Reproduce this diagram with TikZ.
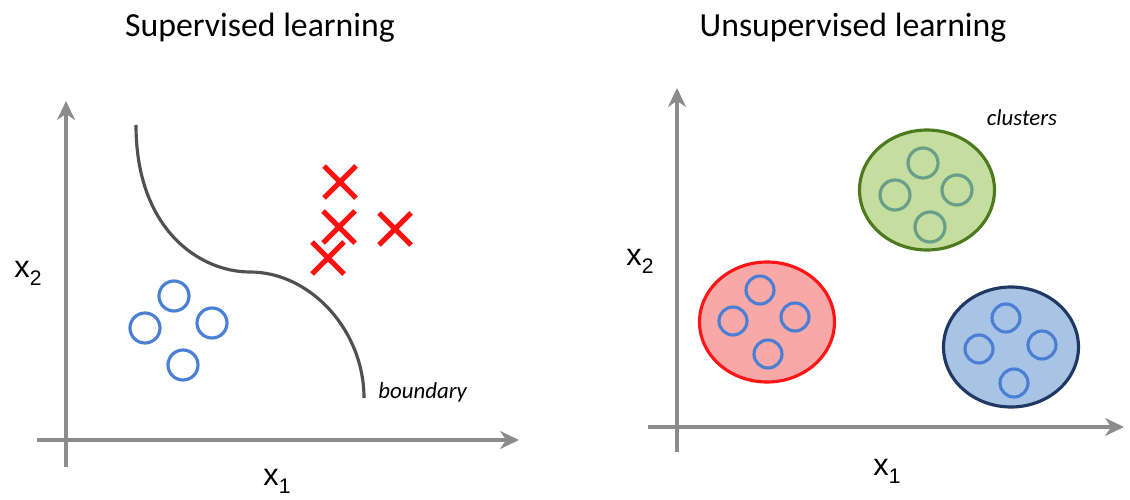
\documentclass[tikz,border=0pt]{standalone}
\usepackage{fontspec}
\setmainfont{Carlito}
\newfontfamily\axisfont{Liberation Sans}
\usepackage{xcolor}
\usetikzlibrary{arrows.meta,positioning,shapes.geometric}
\definecolor{axisgray}{HTML}{8C8C8C}
\definecolor{curvegray}{HTML}{505050}
\definecolor{ptblue}{HTML}{4A7FD4}
\definecolor{ptteal}{HTML}{6A9E88}
\definecolor{xred}{HTML}{FF1010}
\definecolor{grfill}{HTML}{C5DEA0}
\definecolor{grline}{HTML}{4E7A1E}
\definecolor{rdfill}{HTML}{F9A8A8}
\definecolor{rdline}{HTML}{FF1515}
\definecolor{blfill}{HTML}{A9C3E4}
\definecolor{blline}{HTML}{1F3864}
\tikzset{
  axis/.style={draw=axisgray, line width=2pt, -{Stealth[length=0.38cm, width=0.36cm]}},
  title/.style={font=\fontsize{19.2}{22}\selectfont},
  xlab/.style={font=\axisfont\fontsize{17.5}{20}\selectfont, inner sep=0pt},
  note/.style={font=\itshape\fontsize{13}{15}\selectfont, inner sep=0pt},
  pt/.style={circle, draw=ptblue, line width=1.8pt, minimum size=0.6cm, inner sep=0pt},
  xmark/.style={draw=xred, line width=3pt},
  cluster/.style={ellipse, line width=1.8pt, minimum width=2.7cm, minimum height=2.4cm, inner sep=0pt}
}
\newcommand{\sublab}[1]{x\raisebox{-0.16cm}{\fontsize{12}{14}\selectfont #1}}
\begin{document}
\begin{tikzpicture}[x=0.02cm, y=-0.02cm]
\useasboundingbox (0,0) rectangle (1130,500);
% supervised
\node[title] (t1) at (260,28) {Supervised learning};
\coordinate (ya) at (66,467); \coordinate (yb) at (66,101);
\coordinate (xa) at (37,440); \coordinate (xb) at (519,440);
\draw[axis] (ya) -- (yb);
\draw[axis] (xa) -- (xb);
\node[xlab] (lx1) at (277,481) {\sublab{1}};
\node[xlab] (lx2) at (28,273) {\sublab{2}};
\coordinate (b0) at (136,125); \coordinate (b1) at (250,272); \coordinate (b2) at (364,398);
\draw[curvegray, line width=1.8pt] (b0) .. controls (136,230) and (200,272) .. (b1)
  .. controls (310,272) and (364,330) .. (b2);
\node[note, anchor=west] (bl) at (378,392) {boundary};
\node[pt] (c1) at (174,296) {};
\node[pt] (c2) at (145,328) {};
\node[pt] (c3) at (212,323) {};
\node[pt] (c4) at (183,365) {};
\foreach \px/\py in {340/182, 339/227, 395/229, 328/258}
  \draw[xmark] (\px-16,\py-16) -- (\px+16,\py+16) (\px-16,\py+16) -- (\px+16,\py-16);
% unsupervised
\node[title] (t2) at (853,28) {Unsupervised learning};
\coordinate (ua) at (677,452); \coordinate (ub) at (677,88);
\coordinate (va) at (648,427); \coordinate (vb) at (1124,427);
\draw[axis] (ua) -- (ub);
\draw[axis] (va) -- (vb);
\node[xlab] (ux1) at (887,471) {\sublab{1}};
\node[xlab] (ux2) at (640,261) {\sublab{2}};
\node[note] (cl) at (1022,118) {clusters};
\node[cluster, draw=grline, fill=grfill] (green) at (927,190) {};
\node[cluster, draw=rdline, fill=rdfill] (red) at (767,322) {};
\node[cluster, draw=blline, fill=blfill] (blue) at (1011,347) {};
\node[pt, draw=ptteal] (g1) at (923,163) {};
\node[pt, draw=ptteal] (g2) at (895,195) {};
\node[pt, draw=ptteal] (g3) at (957,190) {};
\node[pt, draw=ptteal] (g4) at (930,227) {};
\node[pt, minimum size=0.56cm] (r1) at (760,290) {};
\node[pt, minimum size=0.56cm] (r2) at (733,321) {};
\node[pt, minimum size=0.56cm] (r3) at (795,317) {};
\node[pt, minimum size=0.56cm] (r4) at (768,354) {};
\node[pt, minimum size=0.56cm] (u1) at (1006,318) {};
\node[pt, minimum size=0.56cm] (u2) at (979,349) {};
\node[pt, minimum size=0.56cm] (u3) at (1042,345) {};
\node[pt, minimum size=0.56cm] (u4) at (1014,383) {};
\end{tikzpicture}
\end{document}
